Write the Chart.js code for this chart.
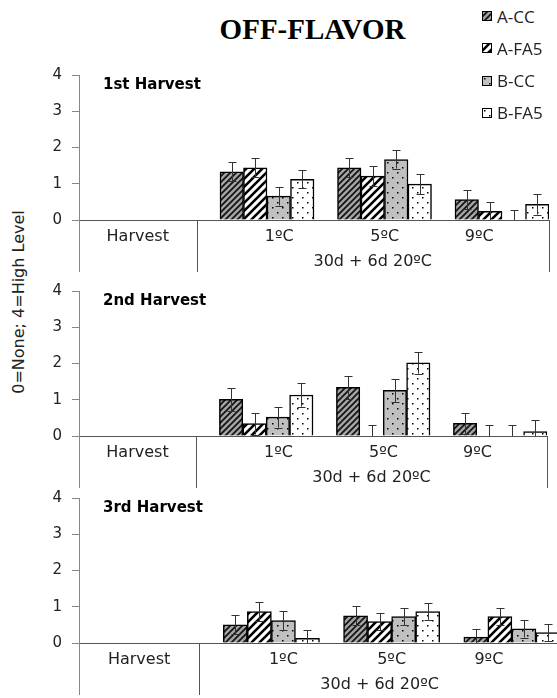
<!DOCTYPE html>
<html>
<head>
<meta charset="utf-8">
<script src="https://cdn.jsdelivr.net/npm/chart.js@4.4.0/dist/chart.umd.min.js"></script>
<style>
  body { margin: 0; width: 557px; height: 698px; overflow: hidden; background: #fff; position: relative; }
  .panel { position: absolute; left: 0; }
  #title { position: absolute; left: 0; top: 15px; width: 625px; text-align: center; font: bold 29px/28px "Liberation Serif", serif; color: #000; }
  #ytitle { position: absolute; left: 19px; top: 302px; width: 300px; height: 20px; margin: -10px 0 0 -150px; transform: rotate(-90deg); text-align: center; font: 16px/20px "DejaVu Sans", sans-serif; color: #222; white-space: nowrap; }
  #legend { position: absolute; left: 482px; top: 0; }
  .item { position: absolute; left: 0; height: 20px; display: flex; align-items: center; font: 17px "Open Sans", sans-serif; color: #222; white-space: nowrap; }
  .item canvas { margin-right: 5px; }
</style>
</head>
<body>
<div id="title">OFF-FLAVOR</div>
<div id="ytitle">0=None; 4=High Level</div>
<div id="legend"></div>
<canvas id="h1" class="panel" width="552" height="217" style="top:55px"></canvas>
<canvas id="h2" class="panel" width="550" height="217" style="top:271px"></canvas>
<canvas id="h3" class="panel" width="563" height="217" style="top:478px"></canvas>
<script>
const categories = ['Harvest', '1ºC', '5ºC', '9ºC'];
const seriesNames = ['A-CC', 'A-FA5', 'B-CC', 'B-FA5'];
const yTicks = [0, 1, 2, 3, 4];
const groupLabel = '30d + 6d 20ºC';

// 1st harvest: means and standard errors
const accH1 = [null, 1.33, 1.44, 0.56];
const afaH1 = [null, 1.44, 1.21, 0.24];
const bccH1 = [null, 0.66, 1.67, 0];
const bfaH1 = [null, 1.12, 0.99, 0.43];
const accH1Err = [null, 0.26, 0.26, 0.26];
const afaH1Err = [null, 0.26, 0.27, 0.25];
const bccH1Err = [null, 0.26, 0.25, 0.28];
const bfaH1Err = [null, 0.25, 0.28, 0.28];

// 2nd harvest
const accH2 = [null, 1.01, 1.34, 0.35];
const afaH2 = [null, 0.34, 0, 0];
const bccH2 = [null, 0.52, 1.26, 0];
const bfaH2 = [null, 1.13, 2.02, 0.12];
const accH2Err = [null, 0.32, 0.32, 0.29];
const afaH2Err = [null, 0.30, 0.31, 0.31];
const bccH2Err = [null, 0.29, 0.32, 0.31];
const bfaH2Err = [null, 0.32, 0.30, 0.33];

// 3rd harvest
const accH3 = [null, 0.50, 0.75, 0.16];
const afaH3 = [null, 0.87, 0.59, 0.73];
const bccH3 = [null, 0.62, 0.73, 0.39];
const bfaH3 = [null, 0.13, 0.87, 0.29];
const accH3Err = [null, 0.26, 0.26, 0.23];
const afaH3Err = [null, 0.26, 0.24, 0.24];
const bccH3Err = [null, 0.26, 0.24, 0.24];
const bfaH3Err = [null, 0.23, 0.23, 0.24];

// horizontal nudge of each category label (px)
const labelNudge = [0, 24, 12, -11];

const FONT = '"DejaVu Sans", sans-serif';

function stripes(bg, ink, size, width) {
  const c = document.createElement('canvas');
  c.width = c.height = size;
  const g = c.getContext('2d');
  g.fillStyle = bg;
  g.fillRect(0, 0, size, size);
  g.strokeStyle = ink;
  g.lineWidth = width;
  g.beginPath();
  g.moveTo(-1, size + 1); g.lineTo(size + 1, -1);
  g.moveTo(-1, 1); g.lineTo(1, -1);
  g.moveTo(size - 1, size + 1); g.lineTo(size + 1, size - 1);
  g.stroke();
  return g.createPattern(c, 'repeat');
}

function dots(bg, ink, size) {
  const c = document.createElement('canvas');
  c.width = c.height = size;
  const g = c.getContext('2d');
  g.fillStyle = bg;
  g.fillRect(0, 0, size, size);
  g.fillStyle = ink;
  g.fillRect(2, 2, 1.5, 1.5);
  g.fillRect(2 + size / 2, 2 + size / 2, 1.5, 1.5);
  return g.createPattern(c, 'repeat');
}

const fills = [
  stripes('#a3a3a3', '#111', 6, 1.7),
  stripes('#ffffff', '#000', 8, 2.6),
  dots('#c0c0c0', '#000', 10),
  dots('#ffffff', '#000', 10)
];

// error bars, category labels, group separators, group label and panel heading
const decorations = {
  id: 'decorations',
  afterDatasetsDraw(chart) {
    const { ctx, scales: { y } } = chart;
    ctx.save();
    ctx.strokeStyle = '#333';
    ctx.lineWidth = 1;
    chart.data.datasets.forEach((ds, i) => {
      if (!ds.errors) return;
      chart.getDatasetMeta(i).data.forEach((bar, j) => {
        const v = ds.data[j], e = ds.errors[j];
        if (v == null || e == null) return;
        const top = Math.round(y.getPixelForValue(v + e)) + 0.5;
        const bot = y.getPixelForValue(Math.max(v - e, 0));
        const cx = Math.round(bar.x) + 0.5;
        ctx.beginPath();
        ctx.moveTo(cx, top); ctx.lineTo(cx, bot);
        ctx.moveTo(cx - 4, top); ctx.lineTo(cx + 4, top);
        if (v - e > 0) {
          const b = Math.round(bot) + 0.5;
          ctx.moveTo(cx - 4, b); ctx.lineTo(cx + 4, b);
        }
        ctx.stroke();
      });
    });
    ctx.restore();
  },
  afterDraw(chart, args, opts) {
    const { ctx, chartArea, scales: { x } } = chart;
    const base = chartArea.bottom;
    const split = (x.getPixelForValue(0) + x.getPixelForValue(1)) / 2;
    ctx.save();
    ctx.lineWidth = 1;
    [[x.left, '#868686'], [split, '#555'], [x.right, '#555']].forEach(([px, col]) => {
      const lx = Math.round(px) + 0.5;
      ctx.strokeStyle = col;
      ctx.beginPath();
      ctx.moveTo(lx, base);
      ctx.lineTo(lx, base + 52);
      ctx.stroke();
    });
    ctx.fillStyle = '#222';
    ctx.font = '16px ' + FONT;
    ctx.textAlign = 'center';
    ctx.textBaseline = 'middle';
    x.ticks.forEach((t, i) => {
      ctx.fillText(categories[t.value], x.getPixelForTick(i) + labelNudge[i], base + 17);
    });
    ctx.fillText(groupLabel, (x.getPixelForValue(1) + x.getPixelForValue(3)) / 2, base + 42);
    ctx.fillStyle = '#000';
    ctx.font = 'bold 15px ' + FONT;
    ctx.textAlign = 'left';
    ctx.fillText(opts.title, chartArea.left + 24, chartArea.top + 10);
    ctx.restore();
  }
};

function makePanel(id, title, values, errors) {
  const datasets = [{ label: '', data: categories.map(() => null) }];
  seriesNames.forEach((name, i) => {
    datasets.push({
      label: name,
      data: values[i],
      errors: errors[i],
      backgroundColor: fills[i],
      borderColor: '#000',
      borderWidth: 1.5
    });
  });
  return new Chart(document.getElementById(id), {
    type: 'bar',
    data: { labels: categories, datasets },
    options: {
      responsive: false,
      animation: false,
      layout: { padding: { top: 20, right: 3, left: 0, bottom: 0 } },
      datasets: { bar: { categoryPercentage: 1, barPercentage: 1 } },
      plugins: {
        legend: { display: false },
        tooltip: { enabled: false },
        decorations: { title }
      },
      scales: {
        x: {
          offset: true,
          grid: { display: true, drawOnChartArea: false, drawTicks: false },
          border: { color: '#555' },
          ticks: { display: false, autoSkip: false },
          afterFit: s => { s.height = 52; }
        },
        y: {
          min: 0,
          max: 4,
          afterBuildTicks: s => { s.ticks = yTicks.map(v => ({ value: v })); },
          ticks: { padding: 10, color: '#222', font: { family: FONT, size: 15 } },
          grid: { drawOnChartArea: false, tickLength: 7, color: '#868686' },
          border: { color: '#868686' },
          afterFit: s => { s.width = 79; }
        }
      }
    },
    plugins: [decorations]
  });
}

const chart1 = makePanel('h1', '1st Harvest',
  [accH1, afaH1, bccH1, bfaH1], [accH1Err, afaH1Err, bccH1Err, bfaH1Err]);
makePanel('h2', '2nd Harvest',
  [accH2, afaH2, bccH2, bfaH2], [accH2Err, afaH2Err, bccH2Err, bfaH2Err]);
makePanel('h3', '3rd Harvest',
  [accH3, afaH3, bccH3, bfaH3], [accH3Err, afaH3Err, bccH3Err, bfaH3Err]);

// legend built from the first panel's series
const legend = document.getElementById('legend');
chart1.data.datasets.filter(ds => ds.label).forEach((ds, i) => {
  const item = document.createElement('div');
  item.className = 'item';
  item.style.top = (6 + i * 32.3) + 'px';
  const box = document.createElement('canvas');
  box.width = box.height = 10;
  const g = box.getContext('2d');
  g.fillStyle = ds.backgroundColor;
  g.fillRect(0, 0, 10, 10);
  g.strokeStyle = '#000';
  g.lineWidth = 1;
  g.strokeRect(0.5, 0.5, 9, 9);
  item.appendChild(box);
  item.appendChild(document.createTextNode(ds.label));
  legend.appendChild(item);
});
</script>
</body>
</html>
